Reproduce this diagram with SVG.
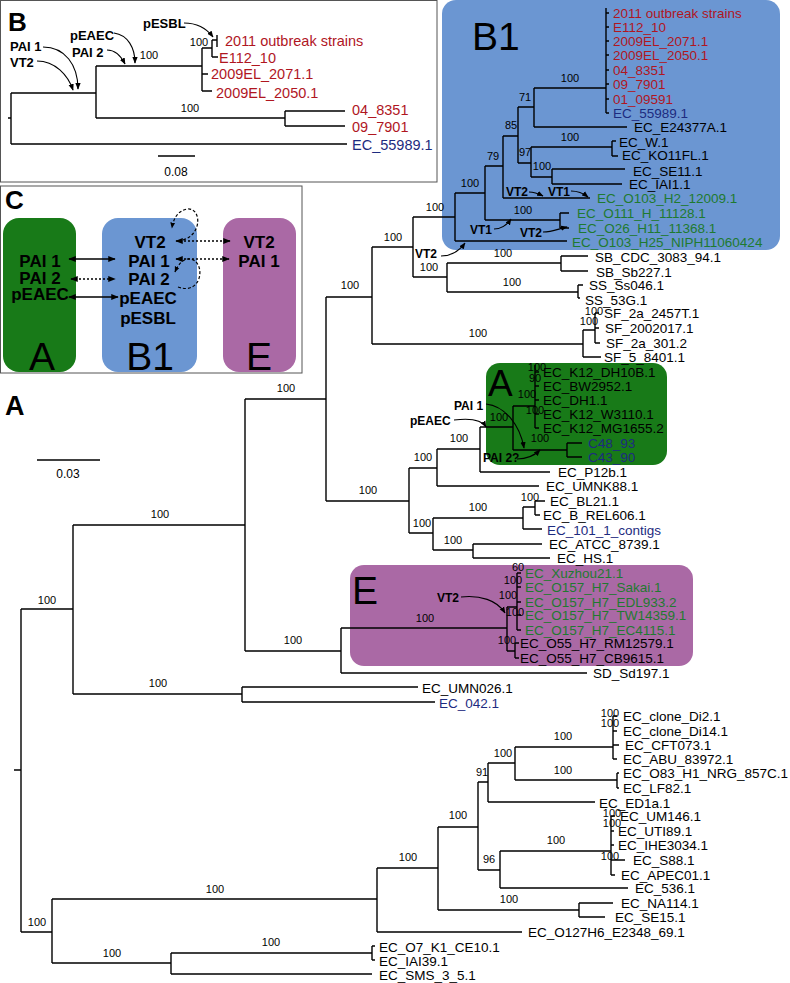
<svg xmlns="http://www.w3.org/2000/svg" width="790" height="983" viewBox="0 0 790 983">
<defs>
<style>
text{font-family:"Liberation Sans",Arial,Helvetica,sans-serif;}
.ln{fill:none;stroke:#000;stroke-width:1.4;}
.bs{font-size:11px;text-anchor:middle;fill:#000;}
.lf{font-size:13.5px;fill:#000;}
.lb{font-size:14.5px;}
.red{fill:#b0161f;}
.blu{fill:#1d2b80;}
.grn{fill:#1f7a30;}
.bd{font-size:12px;font-weight:bold;fill:#000;}
.bc{font-size:17px;font-weight:bold;fill:#000;text-anchor:middle;}
.big{font-size:39px;fill:#000;}
.arr{fill:none;stroke:#000;stroke-width:1.1;marker-end:url(#ah);}
.dbl{fill:none;stroke:#000;stroke-width:1.5;marker-end:url(#ah2);marker-start:url(#ah2s);}
.dot{stroke-dasharray:2 2;}
.dsh{fill:none;stroke:#000;stroke-width:1.2;stroke-dasharray:3 2;marker-end:url(#ah2);}
</style>
<marker id="ah" viewBox="0 0 10 10" refX="9" refY="5" markerWidth="6" markerHeight="6" orient="auto"><path d="M0 1 L10 5 L0 9 Z" fill="#000"/></marker>
<marker id="ah2" viewBox="0 0 10 10" refX="9" refY="5" markerWidth="5" markerHeight="5" orient="auto"><path d="M0 1 L10 5 L0 9 Z" fill="#000"/></marker>
<marker id="ah2s" viewBox="0 0 10 10" refX="1" refY="5" markerWidth="5" markerHeight="5" orient="auto"><path d="M10 1 L0 5 L10 9 Z" fill="#000"/></marker>
</defs>
<rect width="790" height="983" fill="#fff"/>

<!-- clade boxes -->
<g id="box-B1"><rect x="442" y="0" width="338" height="250" rx="14" fill="#6b96d2"/><text class="big" x="472" y="50">B1</text></g>
<g id="box-A"><rect x="486" y="363" width="181" height="102" rx="14" fill="#187a18"/><text class="big" x="488" y="396" style="font-size:37px">A</text></g>
<g id="box-E"><rect x="350" y="565" width="343" height="101" rx="14" fill="#aa69a5"/><text class="big" x="352" y="604">E</text></g>

<!-- panel B -->
<g id="panel-B">
<rect x="0.5" y="0.5" width="436.5" height="181.5" fill="none" stroke="#555" stroke-width="1"/>
<text x="8" y="31" style="font-size:26px;font-weight:bold">B</text>
<path class="ln" d="M8 118H11M11 93V144M11 93H96M11 144H347M96 66V118M96 66H202M96 118H285M285 111V126M285 111H345M285 126H345M202 48V91M202 48H212M202 74H208M202 91H212M212 40V57M212 40H217M217 35V47M212 57H218"/>
<g opacity="0.99"><text class="bs" x="149" y="59">100</text>
<text class="bs" x="190" y="112">100</text>
<text class="bs" x="199" y="46">100</text></g>
<text class="lf lb red" x="225" y="46">2011 outbreak strains</text>
<text class="lf lb red" x="219" y="63">E112_10</text>
<text class="lf lb red" x="211" y="79">2009EL_2071.1</text>
<text class="lf lb red" x="216" y="98">2009EL_2050.1</text>
<text class="lf lb red" x="352" y="115">04_8351</text>
<text class="lf lb red" x="352" y="132">09_7901</text>
<text class="lf lb blu" x="352" y="150">EC_55989.1</text>
<path class="ln" d="M158 156H195"/>
<text x="176" y="176" style="font-size:12px;text-anchor:middle">0.08</text>
<text class="bd" x="143" y="28" style="font-size:13px">pESBL</text>
<text class="bd" x="70" y="40" style="font-size:13px">pEAEC</text>
<text class="bd" x="72" y="57" style="font-size:13px">PAI 2</text>
<text class="bd" x="10" y="51" style="font-size:13px">PAI 1</text>
<text class="bd" x="10" y="67" style="font-size:13px">VT2</text>
<path class="arr" d="M184 23C198 23 207 29 213 37"/>
<path class="arr" d="M114 33C128 35 135 48 135 63"/>
<path class="arr" d="M107 50C115 50 121 56 125 64"/>
<path class="arr" d="M43 47C65 47 78 65 78 89"/>
<path class="arr" d="M37 61C55 61 68 75 73 90"/>
</g>

<!-- panel C -->
<g id="panel-C">
<rect x="0.5" y="186" width="301.5" height="187" fill="none" stroke="#555" stroke-width="1"/>
<text x="5" y="209" style="font-size:26px;font-weight:bold">C</text>
<g id="C-A"><rect x="3" y="218" width="73" height="154" rx="16" fill="#187a18"/>
<text class="bc" x="40" y="267">PAI 1</text><text class="bc" x="40" y="284">PAI 2</text><text class="bc" x="40" y="300">pEAEC</text>
<text class="big" x="42" y="370" style="text-anchor:middle">A</text></g>
<g id="C-B1"><rect x="102" y="218" width="95" height="154" rx="16" fill="#6b96d2"/>
<text class="bc" x="150" y="248">VT2</text><text class="bc" x="149" y="267">PAI 1</text><text class="bc" x="149" y="285">PAI 2</text><text class="bc" x="148" y="304">pEAEC</text><text class="bc" x="148" y="324">pESBL</text>
<text class="big" x="150" y="370" style="text-anchor:middle">B1</text></g>
<g id="C-E"><rect x="223" y="218" width="73" height="154" rx="16" fill="#aa69a5"/>
<text class="bc" x="259" y="248">VT2</text><text class="bc" x="259" y="267">PAI 1</text>
<text class="big" x="259" y="370" style="text-anchor:middle">E</text></g>
<g id="C-links">
<path class="dbl" d="M69 259H115"/>
<path class="dbl dot" d="M71 279H115"/>
<path class="dbl" d="M69 297H118"/>
<path class="dbl dot" d="M176 241H230"/>
<path class="dbl dot" d="M176 259H229"/>
<path class="dsh" d="M183 240C203 234 201 207 187 209C177 211 173 220 172 228"/>
<path class="dsh" d="M178 287C203 296 206 261 190 259C183 258 178 265 175 272"/>
</g>
</g>

<!-- main tree -->
<g id="panel-A">
<text x="5" y="415" style="font-size:27px;font-weight:bold">A</text>
<path class="ln" d="M37 460H100"/>
<text x="68" y="478" style="font-size:12px;text-anchor:middle">0.03</text>
</g>

<g id="connectors">
<path class="ln" d="M14 770H21M21 609V932M21 609H73M73 525V694M73 525H245M245 399V651M245 399H326M326 297V501M326 297H372M372 247V344M372 247H413M413 217V277M413 217H455M455 193V241M455 193H485M485 166V220M485 166H503M503 136V198M503 136H518M518 107V163M518 107H534M534 88V127M534 88H606M606 8V113M606 13H609M606 27H609M606 41H609M606 55H609M606 70H609M606 84H609M606 99H609M606 113H609M534 127H627M518 163H531M531 147V177M531 147H612M612 141V156M612 141H616M612 156H618M531 177H552M552 169V184M552 169H625M552 184H622M503 198H590M485 220H560M560 213V228M560 213H569M560 228H569M455 241H567"/>
<path class="ln" d="M413 277H447M447 263V292M447 263H561M561 256V271M561 256H588M561 271H588M447 292H578M578 285V298M578 285H583M578 298H580M372 344H583M583 330V357M583 330H595M595 313V343M595 313H599M595 328H599M595 343H600M583 357H601"/>
<path class="ln" d="M326 501H409M409 468V533M409 468H437M437 449V486M437 449H480M480 427V472M480 427H513M513 406V450M513 406H535M535 365V428M535 372H539M535 386H539M535 400H539M535 414H539M535 428H539M513 450H567M567 443V457M567 443H582M567 457H582M480 472H550M437 486H539M409 533H433M433 518V550M433 518H523M523 507V529M523 507H535M535 501V515M535 501H545M535 515H540M523 529H542M433 550H473M473 544V558M473 544H542M473 558H550"/>
<path class="ln" d="M245 651H341M341 628V673M341 628H507M507 607V651M507 607H517M517 573V630M517 573H521M517 587H521M517 602H521M517 615H521M517 630H521M507 651H515M515 643V658M515 643H519M515 658H519M341 673H587M73 694H242M242 687V702M242 687H418M242 702H435"/>
<path class="ln" d="M21 932H52M52 899V963M52 899H377M377 868V932M377 868H438M438 827V910M438 827H478M478 782V870M478 782H488M488 763V802M488 763H515M515 747V780M515 747H613M613 716V759M613 716H617M613 731H617M613 745H619M613 759H617M515 780H617M617 773V788M617 773H619M617 788H619M488 802H595M478 870H500M500 851V888M500 851H611M611 816V875M611 816H615M611 831H614M611 845H614M611 860H625M611 875H615M500 888H628M438 910H579M579 903V917M579 903H613M579 917H605M377 932H522M52 963H171M171 953V974M171 953H372M372 946V960M372 946H375M372 960H375M171 974H372"/>
<!-- annotation arrows -->
<path class="arr" d="M441 256C452 256 460 250 465 243"/>
<path class="arr" d="M494 229C502 229 507 225 511 219"/>
<path class="arr" d="M543 232C552 232 558 229 567 227"/>
<path class="arr" d="M529 192C535 192 539 194 543 196"/>
<path class="arr" d="M571 191C578 191 583 193 588 197"/>
<path class="arr" d="M486 404C505 406 520 425 524 448"/>
<path class="arr" d="M454 420C470 418 482 420 486 427"/>
<path class="arr" d="M517 459C527 459 535 455 540 450"/>
<path class="arr" d="M461 597C480 595 497 600 505 613"/>
</g>

<g id="bootstrap" opacity="0.99">
<text class="bs" x="47" y="604">100</text>
<text class="bs" x="160" y="518">100</text>
<text class="bs" x="286" y="392">100</text>
<text class="bs" x="158" y="687">100</text>
<text class="bs" x="293" y="644">100</text>
<text class="bs" x="350" y="289">100</text>
<text class="bs" x="368" y="494">100</text>
<text class="bs" x="393" y="241">100</text>
<text class="bs" x="478" y="337">100</text>
<text class="bs" x="435" y="211">100</text>
<text class="bs" x="429" y="271">100</text>
<text class="bs" x="503" y="257">100</text>
<text class="bs" x="512" y="286">100</text>
<text class="bs" x="594" y="315">100</text>
<text class="bs" x="589" y="325">100</text>
<text class="bs" x="470" y="187">100</text>
<text class="bs" x="493" y="160">79</text>
<text class="bs" x="511" y="129">85</text>
<text class="bs" x="525" y="101">71</text>
<text class="bs" x="570" y="82">100</text>
<text class="bs" x="525" y="156">97</text>
<text class="bs" x="570" y="141">100</text>
<text class="bs" x="542" y="170">100</text>
<text class="bs" x="523" y="214">100</text>
<text class="bs" x="423" y="461">100</text>
<text class="bs" x="422" y="527">100</text>
<text class="bs" x="459" y="442">100</text>
<text class="bs" x="499" y="421">100</text>
<text class="bs" x="527" y="398">100</text>
<text class="bs" x="540" y="442">100</text>
<text class="bs" x="537" y="371">100</text>
<text class="bs" x="535" y="382">90</text>
<text class="bs" x="535" y="414">100</text>
<text class="bs" x="478" y="511">100</text>
<text class="bs" x="453" y="544">100</text>
<text class="bs" x="530" y="501">100</text>
<text class="bs" x="425" y="622">100</text>
<text class="bs" x="518" y="571">60</text>
<text class="bs" x="513" y="584">100</text>
<text class="bs" x="508" y="599">100</text>
<text class="bs" x="515" y="616">100</text>
<text class="bs" x="507" y="644">100</text>
<text class="bs" x="37" y="926">100</text>
<text class="bs" x="215" y="893">100</text>
<text class="bs" x="112" y="957">100</text>
<text class="bs" x="271" y="946">100</text>
<text class="bs" x="408" y="861">100</text>
<text class="bs" x="458" y="819">100</text>
<text class="bs" x="509" y="903">100</text>
<text class="bs" x="482" y="776">91</text>
<text class="bs" x="489" y="863">96</text>
<text class="bs" x="503" y="757">100</text>
<text class="bs" x="563" y="740">100</text>
<text class="bs" x="563" y="774">100</text>
<text class="bs" x="610" y="717">100</text>
<text class="bs" x="610" y="727">100</text>
<text class="bs" x="556" y="844">100</text>
<text class="bs" x="612" y="817">100</text>
<text class="bs" x="612" y="827">100</text>
<text class="bs" x="610" y="860">100</text>
</g>

<g id="annotations">
<text class="bd" x="415" y="258">VT2</text>
<text class="bd" x="470" y="234">VT1</text>
<text class="bd" x="520" y="237">VT2</text>
<text class="bd" x="506" y="196">VT2</text>
<text class="bd" x="548" y="196">VT1</text>
<text class="bd" x="454" y="410">PAI 1</text>
<text class="bd" x="410" y="425">pEAEC</text>
<text class="bd" x="483" y="462">PAI 2?</text>
<text class="bd" x="437" y="602">VT2</text>
</g>

<g id="leaves">
<text class="lf red" x="613" y="18">2011 outbreak strains</text>
<text class="lf red" x="613" y="32">E112_10</text>
<text class="lf red" x="613" y="46">2009EL_2071.1</text>
<text class="lf red" x="613" y="60">2009EL_2050.1</text>
<text class="lf red" x="613" y="75">04_8351</text>
<text class="lf red" x="613" y="89">09_7901</text>
<text class="lf red" x="613" y="104">01_09591</text>
<text class="lf blu" x="613" y="118">EC_55989.1</text>
<text class="lf" x="634" y="132">EC_E24377A.1</text>
<text class="lf" x="619" y="147">EC_W.1</text>
<text class="lf" x="622" y="160">EC_KO11FL.1</text>
<text class="lf" x="633" y="176">EC_SE11.1</text>
<text class="lf" x="629" y="189">EC_IAI1.1</text>
<text class="lf grn" x="597" y="203">EC_O103_H2_12009.1</text>
<text class="lf grn" x="577" y="218">EC_O111_H_11128.1</text>
<text class="lf grn" x="578" y="233">EC_O26_H11_11368.1</text>
<text class="lf grn" x="572" y="247">EC_O103_H25_NIPH11060424</text>
<text class="lf" x="595" y="262">SB_CDC_3083_94.1</text>
<text class="lf" x="596" y="277">SB_Sb227.1</text>
<text class="lf" x="589" y="290">SS_Ss046.1</text>
<text class="lf" x="585" y="305">SS_53G.1</text>
<text class="lf" x="604" y="318">SF_2a_2457T.1</text>
<text class="lf" x="605" y="333">SF_2002017.1</text>
<text class="lf" x="606" y="348">SF_2a_301.2</text>
<text class="lf" x="604" y="362">SF_5_8401.1</text>
<text class="lf" x="543" y="377">EC_K12_DH10B.1</text>
<text class="lf" x="543" y="391">EC_BW2952.1</text>
<text class="lf" x="543" y="405">EC_DH1.1</text>
<text class="lf" x="543" y="419">EC_K12_W3110.1</text>
<text class="lf" x="543" y="433">EC_K12_MG1655.2</text>
<text class="lf blu" x="588" y="448">C48_93</text>
<text class="lf blu" x="588" y="462">C43_90</text>
<text class="lf" x="558" y="477">EC_P12b.1</text>
<text class="lf" x="546" y="491">EC_UMNK88.1</text>
<text class="lf" x="550" y="506">EC_BL21.1</text>
<text class="lf" x="543" y="520">EC_B_REL606.1</text>
<text class="lf blu" x="547" y="535">EC_101_1_contigs</text>
<text class="lf" x="549" y="549">EC_ATCC_8739.1</text>
<text class="lf" x="557" y="563">EC_HS.1</text>
<text class="lf grn" x="525" y="578">EC_Xuzhou21.1</text>
<text class="lf grn" x="525" y="592">EC_O157_H7_Sakai.1</text>
<text class="lf grn" x="525" y="607">EC_O157_H7_EDL933.2</text>
<text class="lf grn" x="525" y="620">EC_O157_H7_TW14359.1</text>
<text class="lf grn" x="525" y="635">EC_O157_H7_EC4115.1</text>
<text class="lf" x="520" y="648">EC_O55_H7_RM12579.1</text>
<text class="lf" x="520" y="663">EC_O55_H7_CB9615.1</text>
<text class="lf" x="593" y="678">SD_Sd197.1</text>
<text class="lf" x="422" y="693">EC_UMN026.1</text>
<text class="lf blu" x="439" y="708">EC_042.1</text>
<text class="lf" x="623" y="721">EC_clone_Di2.1</text>
<text class="lf" x="623" y="736">EC_clone_Di14.1</text>
<text class="lf" x="625" y="750">EC_CFT073.1</text>
<text class="lf" x="623" y="764">EC_ABU_83972.1</text>
<text class="lf" x="623" y="778">EC_O83_H1_NRG_857C.1</text>
<text class="lf" x="623" y="793">EC_LF82.1</text>
<text class="lf" x="599" y="808">EC_ED1a.1</text>
<text class="lf" x="620" y="821">EC_UM146.1</text>
<text class="lf" x="618" y="836">EC_UTI89.1</text>
<text class="lf" x="618" y="850">EC_IHE3034.1</text>
<text class="lf" x="633" y="865">EC_S88.1</text>
<text class="lf" x="621" y="880">EC_APEC01.1</text>
<text class="lf" x="635" y="893">EC_536.1</text>
<text class="lf" x="621" y="908">EC_NA114.1</text>
<text class="lf" x="615" y="922">EC_SE15.1</text>
<text class="lf" x="528" y="937">EC_O127H6_E2348_69.1</text>
<text class="lf" x="379" y="952">EC_O7_K1_CE10.1</text>
<text class="lf" x="379" y="966">EC_IAI39.1</text>
<text class="lf" x="379" y="980">EC_SMS_3_5.1</text>
</g>
</svg>
